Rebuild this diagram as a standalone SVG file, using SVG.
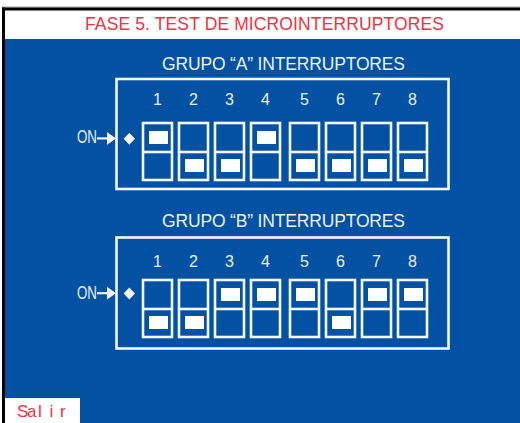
<svg xmlns="http://www.w3.org/2000/svg" width="520" height="423" viewBox="0 0 520 423">
<defs>
<style>
.bg{fill:#0251A2}
.t{font-family:"Liberation Sans",Arial,sans-serif;fill:#EEF2F8}
.red{font-family:"Liberation Sans",Arial,sans-serif;fill:#EE3340}
.box{fill:none;stroke:#F4F8FC;stroke-width:2.6}
.sw{fill:none;stroke:#F4F8FC;stroke-width:2.6}
.pad{fill:#FFFFFF}
.num{font-family:"Liberation Sans",Arial,sans-serif;fill:#EEF2F8;font-size:16px;text-anchor:middle}
.ln{stroke:#F4F8FC;stroke-width:2.2;fill:none}
.wh{fill:#F4F8FC}
</style>
</defs>
<rect x="0" y="0" width="520" height="423" fill="#FFFFFF"/>
<rect x="2" y="6.5" width="518" height="1" fill="#999999"/>
<rect x="2" y="7.5" width="518" height="3" fill="#000000"/>
<rect x="2" y="7.5" width="3" height="415.5" fill="#000000"/>
<rect class="bg" x="5" y="39" width="515" height="384"/>

<g id="title">
<text class="red" x="85" y="30" font-size="17.5" textLength="359" lengthAdjust="spacing">FASE 5. TEST DE MICROINTERRUPTORES</text>
</g>

<g id="groupA">
<text class="t" x="162" y="70" font-size="17.5" textLength="243" lengthAdjust="spacing">GRUPO “A” INTERRUPTORES</text>
<rect class="box" x="116.5" y="79" width="332" height="110"/>
<text class="t" x="77" y="143.3" font-size="17.5" textLength="20" lengthAdjust="spacingAndGlyphs">ON</text>
<polygon class="wh" points="129.3,132.8 135,138.8 129.3,144.8 123.6,138.8"/>
<text class="num" x="157.5" y="105">1</text>
<text class="num" x="193.5" y="105">2</text>
<text class="num" x="229.5" y="105">3</text>
<text class="num" x="265.5" y="105">4</text>
<text class="num" x="304.5" y="105">5</text>
<text class="num" x="340.5" y="105">6</text>
<text class="num" x="376.5" y="105">7</text>
<text class="num" x="412.5" y="105">8</text>
<g id="A1"><rect class="sw" x="143" y="123" width="29" height="57"/><line class="sw" x1="143" y1="152" x2="172" y2="152"/><rect class="pad" x="149" y="131" width="19" height="13"/></g>
<g id="A2"><rect class="sw" x="179" y="123" width="29" height="57"/><line class="sw" x1="179" y1="152" x2="208" y2="152"/><rect class="pad" x="185" y="159" width="19" height="13"/></g>
<g id="A3"><rect class="sw" x="215" y="123" width="29" height="57"/><line class="sw" x1="215" y1="152" x2="244" y2="152"/><rect class="pad" x="221" y="159" width="19" height="13"/></g>
<g id="A4"><rect class="sw" x="251" y="123" width="29" height="57"/><line class="sw" x1="251" y1="152" x2="280" y2="152"/><rect class="pad" x="257" y="131" width="19" height="13"/></g>
<g id="A5"><rect class="sw" x="290" y="123" width="29" height="57"/><line class="sw" x1="290" y1="152" x2="319" y2="152"/><rect class="pad" x="296" y="159" width="19" height="13"/></g>
<g id="A6"><rect class="sw" x="326" y="123" width="29" height="57"/><line class="sw" x1="326" y1="152" x2="355" y2="152"/><rect class="pad" x="332" y="159" width="19" height="13"/></g>
<g id="A7"><rect class="sw" x="362" y="123" width="29" height="57"/><line class="sw" x1="362" y1="152" x2="391" y2="152"/><rect class="pad" x="368" y="159" width="19" height="13"/></g>
<g id="A8"><rect class="sw" x="398" y="123" width="29" height="57"/><line class="sw" x1="398" y1="152" x2="427" y2="152"/><rect class="pad" x="404" y="159" width="19" height="13"/></g>
</g>

<g id="groupB">
<text class="t" x="162" y="227" font-size="17.5" textLength="243" lengthAdjust="spacing">GRUPO “B” INTERRUPTORES</text>
<rect class="box" x="116.5" y="237.5" width="332" height="111"/>
<text class="t" x="77" y="298.5" font-size="17.5" textLength="20" lengthAdjust="spacingAndGlyphs">ON</text>
<polygon class="wh" points="129.3,287.6 135,293.6 129.3,299.6 123.6,293.6"/>
<text class="num" x="157.5" y="266.5">1</text>
<text class="num" x="193.5" y="266.5">2</text>
<text class="num" x="229.5" y="266.5">3</text>
<text class="num" x="265.5" y="266.5">4</text>
<text class="num" x="304.5" y="266.5">5</text>
<text class="num" x="340.5" y="266.5">6</text>
<text class="num" x="376.5" y="266.5">7</text>
<text class="num" x="412.5" y="266.5">8</text>
<g id="B1"><rect class="sw" x="143" y="280" width="29" height="57"/><line class="sw" x1="143" y1="309" x2="172" y2="309"/><rect class="pad" x="149" y="316" width="19" height="13"/></g>
<g id="B2"><rect class="sw" x="179" y="280" width="29" height="57"/><line class="sw" x1="179" y1="309" x2="208" y2="309"/><rect class="pad" x="185" y="316" width="19" height="13"/></g>
<g id="B3"><rect class="sw" x="215" y="280" width="29" height="57"/><line class="sw" x1="215" y1="309" x2="244" y2="309"/><rect class="pad" x="221" y="288" width="19" height="13"/></g>
<g id="B4"><rect class="sw" x="251" y="280" width="29" height="57"/><line class="sw" x1="251" y1="309" x2="280" y2="309"/><rect class="pad" x="257" y="288" width="19" height="13"/></g>
<g id="B5"><rect class="sw" x="290" y="280" width="29" height="57"/><line class="sw" x1="290" y1="309" x2="319" y2="309"/><rect class="pad" x="296" y="288" width="19" height="13"/></g>
<g id="B6"><rect class="sw" x="326" y="280" width="29" height="57"/><line class="sw" x1="326" y1="309" x2="355" y2="309"/><rect class="pad" x="332" y="316" width="19" height="13"/></g>
<g id="B7"><rect class="sw" x="362" y="280" width="29" height="57"/><line class="sw" x1="362" y1="309" x2="391" y2="309"/><rect class="pad" x="368" y="288" width="19" height="13"/></g>
<g id="B8"><rect class="sw" x="398" y="280" width="29" height="57"/><line class="sw" x1="398" y1="309" x2="427" y2="309"/><rect class="pad" x="404" y="288" width="19" height="13"/></g>
</g>

<g id="connectors">
<line class="ln" x1="97" y1="138.4" x2="108" y2="138.4"/>
<polygon class="wh" points="107,132 116,138.4 107,144.8"/>
<line class="ln" x1="97" y1="293.2" x2="108" y2="293.2"/>
<polygon class="wh" points="107,286.8 116,293.2 107,299.6"/>
</g>

<g id="salir">
<rect x="5" y="398" width="75" height="25" fill="#FFFFFF"/>
<text class="red" x="17 27 38 49.5 60" y="416.7" font-size="17">Salir</text>
</g>
</svg>
